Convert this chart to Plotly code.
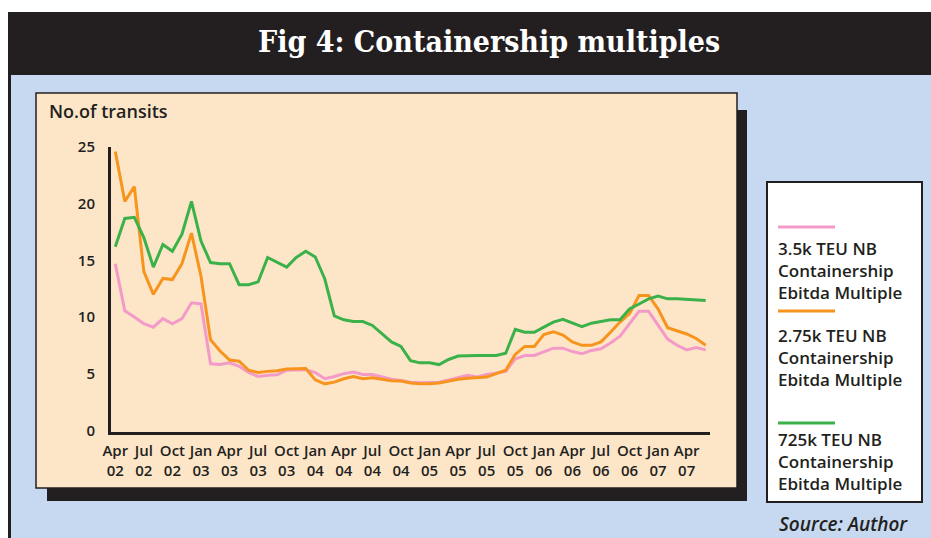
import plotly.graph_objects as go

# ---------------- data ----------------
month_names = ["Jan", "Feb", "Mar", "Apr", "May", "Jun", "Jul", "Aug", "Sep", "Oct", "Nov", "Dec"]
months = []
for yr in range(2002, 2008):
    for mi, mn in enumerate(month_names):
        if (yr == 2002 and mi < 3) or (yr == 2007 and mi > 5):
            continue
        months.append(f"{mn} {str(yr)[2:]}")

tick_months = months[::3]
tick_text = [m.replace(" ", "<br>") for m in tick_months]

teu_3500 = [14.7, 10.55, 10.0, 9.4, 9.1, 9.85, 9.4, 9.85, 11.25, 11.15,
            5.87, 5.8, 5.95, 5.65, 5.1, 4.75, 4.85, 4.9, 5.3, 5.3,
            5.35, 5.1, 4.55, 4.75, 5.0, 5.15, 4.93, 4.93, 4.7, 4.5,
            4.4, 4.25, 4.2, 4.2, 4.25, 4.45, 4.64, 4.85, 4.7, 4.93,
            5.05, 5.2, 6.3, 6.6, 6.6, 6.9, 7.25, 7.25, 6.95, 6.75,
            7.05, 7.2, 7.7, 8.3, 9.4, 10.5, 10.5, 9.25, 8.05, 7.5,
            7.1, 7.3, 7.1]

teu_2750 = [24.6, 20.2, 21.5, 14.0, 12.0, 13.4, 13.3, 14.7, 17.4, 13.6,
            8.0, 7.0, 6.2, 6.1, 5.3, 5.1, 5.2, 5.25, 5.4, 5.45,
            5.45, 4.45, 4.1, 4.25, 4.55, 4.75, 4.55, 4.64, 4.5, 4.37,
            4.35, 4.17, 4.1, 4.1, 4.17, 4.35, 4.5, 4.6, 4.64, 4.7,
            5.0, 5.3, 6.7, 7.4, 7.4, 8.45, 8.7, 8.4, 7.8, 7.5,
            7.5, 7.8, 8.65, 9.55, 10.3, 11.9, 11.9, 10.7, 9.05, 8.75,
            8.5, 8.1, 7.5]

teu_725 = [16.2, 18.7, 18.8, 17.0, 14.4, 16.4, 15.8, 17.3, 20.2, 16.7,
           14.8, 14.7, 14.7, 12.85, 12.85, 13.1, 15.25, 14.8, 14.4, 15.25,
           15.8, 15.3, 13.35, 10.1, 9.75, 9.6, 9.6, 9.25, 8.5, 7.8,
           7.4, 6.15, 5.95, 5.95, 5.8, 6.25, 6.55, 6.6, 6.6, 6.6,
           6.6, 6.8, 8.9, 8.65, 8.65, 9.1, 9.55, 9.8, 9.45, 9.15,
           9.45, 9.6, 9.75, 9.75, 10.7, 11.15, 11.6, 11.85, 11.6, 11.6,
           11.55, 11.45, 11.45]

series_names = ["3.5k TEU NB<br>Containership<br>Ebitda Multiple",
                "2.75k TEU NB<br>Containership<br>Ebitda Multiple",
                "725k TEU NB<br>Containership<br>Ebitda Multiple"]
series_values = [teu_3500, teu_2750, teu_725]
series_colors = ["#f49ac9", "#f7941e", "#3bb14a"]

y_ticks = [0, 5, 10, 15, 20, 25]

# ---------------- layout geometry (pixels) ----------------
W, H = 931, 538
PL, PR, PT, PB = 111, 710, 147, 432   # plot area in pixels


def px(x):
    return (x - PL) / (PR - PL)


def py(y):
    return (PB - y) / (PB - PT)


DARK = "#231f20"
BLUE = "#c6d9f0"
BEIGE = "#fde6c8"
FONT = "Open Sans"

fig = go.Figure()
for name, vals, col in zip(series_names, series_values, series_colors):
    fig.add_trace(go.Scatter(x=months, y=vals, mode="lines",
                             name=name.replace("<br>", " "),
                             line=dict(color=col, width=3),
                             showlegend=False, hoverinfo="skip"))

shapes = []


def rect(x0, y0, x1, y1, fill, line_color=None, line_width=0):
    shapes.append(dict(type="rect", xref="paper", yref="paper",
                       x0=px(x0), x1=px(x1), y0=py(y1), y1=py(y0),
                       fillcolor=fill, layer="below",
                       line=dict(color=line_color or fill, width=line_width)))


# blue background, title bar, left border
rect(8, 12, W + 2, H + 2, BLUE)
rect(8, 12, W + 2, 75, DARK)
rect(8, 12, 11, H + 2, DARK)
# panel shadow and beige panel
rect(47, 110, 747, 501, DARK)
rect(36, 93, 737, 488, BEIGE, DARK, 1.5)
# legend box
rect(767, 182, 922, 502, "white", DARK, 2)

annotations = []
# legend sample lines and texts
legend_line_y = [227, 311, 423]
legend_text_y = [270, 357, 462]
for name, col, ly, ty in zip(series_names, series_colors, legend_line_y, legend_text_y):
    shapes.append(dict(type="line", xref="paper", yref="paper",
                       x0=px(778), x1=px(835), y0=py(ly), y1=py(ly),
                       line=dict(color=col, width=3)))
    annotations.append(dict(text=name, xref="paper", yref="paper",
                            x=px(776), y=py(ty), align="left",
                            xanchor="left", yanchor="middle", showarrow=False,
                            font=dict(family=FONT, size=17, color=DARK, weight=600)))

# title
annotations.append(dict(text="Fig 4: Containership multiples", xref="paper", yref="paper",
                        x=px(489), y=py(42), xanchor="center", yanchor="middle",
                        showarrow=False,
                        font=dict(family="DejaVu Serif Condensed", size=30,
                                  color="white", weight="bold")))
# y axis title
annotations.append(dict(text="No.of transits", xref="paper", yref="paper",
                        x=px(47), y=py(111), xanchor="left", yanchor="middle",
                        showarrow=False,
                        font=dict(family=FONT, size=18, color=DARK, weight=600)))
# source
annotations.append(dict(text="Source: Author", xref="paper", yref="paper",
                        x=px(910), y=py(524), xanchor="right", yanchor="middle",
                        showarrow=False,
                        font=dict(family=FONT, size=19, color=DARK, weight=600,
                                  style="italic")))

fig.update_layout(
    width=W, height=H,
    margin=dict(l=PL, r=W - PR, t=PT, b=H - PB, pad=0),
    paper_bgcolor="white", plot_bgcolor="rgba(0,0,0,0)",
    shapes=shapes, annotations=annotations,
    showlegend=False,
    xaxis=dict(type="category", range=[-0.45, 62.45],
               tickmode="array", tickvals=tick_months, ticktext=tick_text,
               showgrid=False, zeroline=False,
               showline=True, linecolor=DARK, linewidth=3,
               ticks="outside", ticklen=3, tickcolor="rgba(0,0,0,0)",
               tickfont=dict(family=FONT, size=15, color=DARK, weight=600)),
    yaxis=dict(range=[-0.15, 25], tickmode="array", tickvals=y_ticks,
               showgrid=False, zeroline=False,
               showline=True, linecolor=DARK, linewidth=3,
               ticks="outside", ticklen=10, tickcolor="rgba(0,0,0,0)",
               tickfont=dict(family=FONT, size=15, color=DARK, weight=600)),
)

fig.write_html("out.html", config={"displayModeBar": False},
               post_script="document.body.style.margin='0px';"
                           "document.body.style.overflow='hidden';")
